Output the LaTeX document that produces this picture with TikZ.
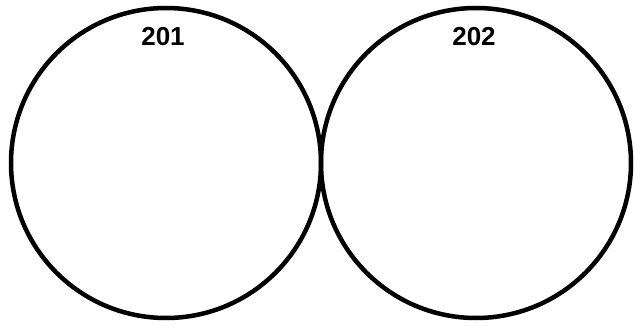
\documentclass[tikz,border=0pt]{standalone}
\usepackage{fontspec}
\setmainfont{Liberation Sans}
\usetikzlibrary{positioning}

\begin{document}
\begin{tikzpicture}[
  x=1pt,y=-1pt,
  ring/.style={draw=black,line width=4.5pt,circle,minimum size=310pt,inner sep=0pt},
  tag/.style={font=\bfseries\fontsize{26}{26}\selectfont,inner sep=0pt},
]
  \useasboundingbox (0,0) rectangle (635,326);

  \node[ring] (left ring) at (166,163) {};
  \node[ring] (right ring) at (476,163) {};

  \node[tag] (tag201) at (163,37) {201};
  \node[tag] (tag202) at (474,37) {202};
\end{tikzpicture}
\end{document}
